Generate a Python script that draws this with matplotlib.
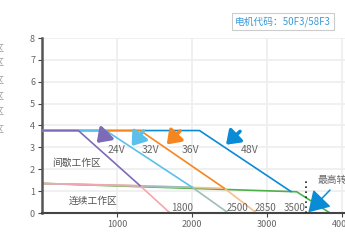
import matplotlib.pyplot as plt

plt.rcParams['font.family'] = ['Noto Sans CJK SC', 'DejaVu Sans']

# peak torque curves (speed rpm, torque)
volt_labels = ['24V', '32V', '36V', '48V']
volt_colors = ['#7e6bb8', '#5bc0eb', '#f5861f', '#0a8bd6']
volt_speed = [[0, 484, 1307], [0, 850, 2000], [0, 1310, 2431], [0, 2100, 3320]]
volt_torque = [[3.77, 3.77, 1.25], [3.77, 3.77, 1.18], [3.77, 3.77, 1.13], [3.77, 3.77, 0.98]]

# continuous torque curves
cont_colors = ['#f4a6b0', '#9fbdbb', '#f9c08a', '#4db04a']
cont_speed = [[0, 1307, 1707], [0, 2000, 2484], [0, 2431, 2862], [0, 3396, 3840]]
cont_torque = [[1.35, 1.25, 0], [1.35, 1.18, 0], [1.35, 1.13, 0], [1.35, 0.97, 0]]
end_labels = ['1800', '2500', '2850', '3500']
end_label_x = [1871, 2607, 2987, 3369]

# arrows (tail, tip) and voltage label positions
arrow_tail = [(863, 3.66), (1351, 3.75), (1840, 3.75), (2640, 3.73)]
arrow_tip = [(729, 3.2), (1196, 3.06), (1663, 3.13), (2453, 3.12)]
label_pos = [(996, 2.87), (1451, 2.87), (1984, 2.87), (2769, 2.89)]

max_speed = 3520

fig = plt.figure(figsize=(3.45, 2.43), dpi=100)
ax = fig.add_axes([42 / 345, 30 / 243, 303 / 345, 175 / 243])

for i in range(4):
    ax.plot(cont_speed[3 - i], cont_torque[3 - i], color=cont_colors[3 - i], lw=1.2, zorder=2)
for i in range(4):
    ax.plot(volt_speed[3 - i], volt_torque[3 - i], color=volt_colors[3 - i], lw=1.2, zorder=3)

for i in range(4):
    ax.annotate('', xy=arrow_tip[i], xytext=arrow_tail[i],
                arrowprops=dict(arrowstyle='-|>,head_length=0.7,head_width=0.5',
                                lw=2.6, color=volt_colors[i], mutation_scale=11,
                                shrinkA=0, shrinkB=0), zorder=5)
    ax.text(label_pos[i][0], label_pos[i][1], volt_labels[i], fontsize=7.5,
            color='#666666', ha='center', va='center', zorder=6)

for lab, xx in zip(end_labels, end_label_x):
    ax.text(xx, 0.23, lab, fontsize=7, color='#666666', ha='center', va='center')

ax.text(462, 2.28, '间歇工作区', fontsize=7, color='#555555', ha='center', va='center')
ax.text(684, 0.56, '连续工作区', fontsize=7, color='#555555', ha='center', va='center')

ax.plot([max_speed, max_speed], [0, 1.45], color='#222222', lw=1.2, ls=(0, (1, 2)), zorder=4)
ax.annotate('', xy=(3551, 0.03), xytext=(3840, 1.05),
            arrowprops=dict(arrowstyle='-|>,head_length=0.9,head_width=0.55',
                            lw=1.1, color='#0a8bd6', mutation_scale=14,
                            shrinkA=0, shrinkB=0), zorder=5)
ax.text(3667, 1.51, '最高转速', fontsize=7, color='#666666', ha='left', va='center')

ax.set_xlim(0, 4040)
ax.set_ylim(0, 8)
ax.set_xticks([1000, 2000, 3000, 4000])
ax.set_yticks(range(0, 9))
ax.grid(True, color='#eeeeee', lw=1.2)
ax.set_axisbelow(True)
for s in ['top', 'right']:
    ax.spines[s].set_visible(False)
ax.spines['left'].set_color('#555555')
ax.spines['left'].set_linewidth(1.8)
ax.spines['bottom'].set_color('#444444')
ax.spines['bottom'].set_linewidth(1.5)
ax.tick_params(axis='both', labelsize=6.5, colors='#444444', length=3, width=0.8,
               labelcolor='#666666', pad=2)

# clipped side labels on the left edge
for yy in [48.7, 62.7, 81, 96.7, 111.7, 129]:
    fig.text(5 / 345, 1 - yy / 243, '工作区', fontsize=6.5, color='#999999',
             ha='right', va='center')

fig.text(283 / 345, 1 - 21.7 / 243, '电机代码：50F3/58F3', fontsize=7, color='#3a9ad9',
         ha='center', va='center',
         bbox=dict(boxstyle='square,pad=0.35', fc='white', ec='#cccccc', lw=0.8))

fig.savefig('out.png', dpi=100)
